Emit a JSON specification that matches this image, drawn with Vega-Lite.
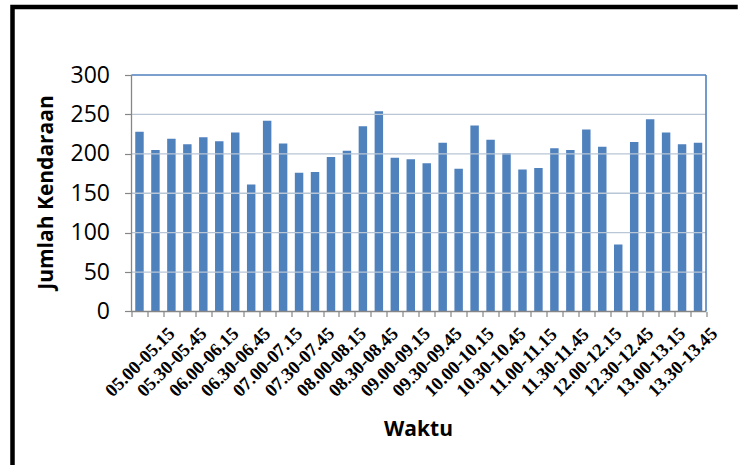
{
  "$schema": "https://vega.github.io/schema/vega-lite/v6.json",
  "autosize": "none",
  "width": 725.5,
  "height": 458,
  "padding": {"left": 12.5, "top": 7, "right": 0, "bottom": 0},
  "background": "white",
  "config": {
    "view": {"stroke": "black", "strokeWidth": 4.5, "fill": "white", "strokeDash": [723, 1186, 458, 0], "strokeCap": "square"}
  },
  "datasets": {
    "counts": [
      {"waktu": "05.00-05.15", "jumlah": 228},
      {"waktu": "05.15-05.30", "jumlah": 205},
      {"waktu": "05.30-05.45", "jumlah": 219},
      {"waktu": "05.45-06.00", "jumlah": 212},
      {"waktu": "06.00-06.15", "jumlah": 221},
      {"waktu": "06.15-06.30", "jumlah": 216},
      {"waktu": "06.30-06.45", "jumlah": 227},
      {"waktu": "06.45-07.00", "jumlah": 161},
      {"waktu": "07.00-07.15", "jumlah": 242},
      {"waktu": "07.15-07.30", "jumlah": 213},
      {"waktu": "07.30-07.45", "jumlah": 176},
      {"waktu": "07.45-08.00", "jumlah": 177},
      {"waktu": "08.00-08.15", "jumlah": 196},
      {"waktu": "08.15-08.30", "jumlah": 204},
      {"waktu": "08.30-08.45", "jumlah": 235},
      {"waktu": "08.45-09.00", "jumlah": 254},
      {"waktu": "09.00-09.15", "jumlah": 195},
      {"waktu": "09.15-09.30", "jumlah": 193},
      {"waktu": "09.30-09.45", "jumlah": 188},
      {"waktu": "09.45-10.00", "jumlah": 214},
      {"waktu": "10.00-10.15", "jumlah": 181},
      {"waktu": "10.15-10.30", "jumlah": 236},
      {"waktu": "10.30-10.45", "jumlah": 218},
      {"waktu": "10.45-11.00", "jumlah": 201},
      {"waktu": "11.00-11.15", "jumlah": 180},
      {"waktu": "11.15-11.30", "jumlah": 182},
      {"waktu": "11.30-11.45", "jumlah": 207},
      {"waktu": "11.45-12.00", "jumlah": 205},
      {"waktu": "12.00-12.15", "jumlah": 231},
      {"waktu": "12.15-12.30", "jumlah": 209},
      {"waktu": "12.30-12.45", "jumlah": 85},
      {"waktu": "12.45-13.00", "jumlah": 215},
      {"waktu": "13.00-13.15", "jumlah": 244},
      {"waktu": "13.15-13.30", "jumlah": 227},
      {"waktu": "13.30-13.45", "jumlah": 212},
      {"waktu": "13.45-14.00", "jumlah": 214}
    ],
    "grid": [{"v": 50}, {"v": 100}, {"v": 150}, {"v": 200}, {"v": 250}]
  },
  "layer": [
    {
      "data": {"name": "counts"},
      "mark": {"type": "bar", "color": "#4f81bd", "width": {"band": 0.53}},
      "encoding": {
        "x": {
          "field": "waktu",
          "type": "nominal",
          "sort": null,
          "scale": {"type": "band", "paddingInner": 0, "paddingOuter": 0, "range": [119, 693.5], "round": false},
          "axis": {
            "orient": "bottom",
            "offset": -153.5,
            "domain": false,
            "grid": false,
            "tickBand": "extent",
            "tickSize": 5,
            "tickColor": "#868686",
            "tickWidth": 1.2,
            "labelExpr": "(substring(datum.value,3,5)=='00'||substring(datum.value,3,5)=='30')?datum.value:''",
            "labelAngle": -45,
            "labelAlign": "center",
            "labelBaseline": "middle",
            "labelFont": "Liberation Serif",
            "labelFontWeight": "bold",
            "labelFontSize": 18.5,
            "labelColor": "black",
            "labelPadding": 45,
            "labelOverlap": false,
            "labelBound": false,
            "labelFlush": false,
            "title": "Waktu",
            "titleFont": "Open Sans",
            "titleFontWeight": "bold",
            "titleFontSize": 21,
            "titleColor": "black",
            "titleX": 405.5,
            "titleY": 123.5,
            "titleAlign": "center",
            "titleBaseline": "alphabetic"
          }
        },
        "y": {
          "field": "jumlah",
          "type": "quantitative",
          "scale": {"domain": [-194.72, 386.26], "nice": false, "zero": false},
          "axis": {
            "orient": "left",
            "offset": -119,
            "domain": false,
            "grid": false,
            "values": [0, 50, 100, 150, 200, 250, 300],
            "tickSize": 7,
            "tickColor": "#868686",
            "tickWidth": 1.2,
            "labelFont": "Open Sans",
            "labelFontSize": 23,
            "labelColor": "black",
            "labelPadding": 15,
            "title": "Jumlah Kendaraan",
            "titleFont": "Open Sans",
            "titleFontWeight": "bold",
            "titleFontSize": 21,
            "titleColor": "black",
            "titleAngle": -90,
            "titleX": -85,
            "titleY": 185,
            "titleAlign": "center",
            "titleBaseline": "middle"
          }
        },
        "y2": {"datum": 0}
      }
    },
    {
      "data": {"name": "grid"},
      "mark": {"type": "rule", "color": "#b9c6d6", "strokeWidth": 1.3},
      "encoding": {
        "y": {"field": "v", "type": "quantitative"},
        "x": {"datum": "05.00-05.15", "type": "nominal", "bandPosition": 0, "scale": {"type": "band", "paddingInner": 0, "paddingOuter": 0, "range": [119, 693.5], "round": false}},
        "x2": {"datum": "13.45-14.00", "bandPosition": 1}
      }
    },
    {
      "data": {"values": [{}]},
      "mark": {"type": "rule", "color": "#4f81bd", "strokeWidth": 1.6},
      "encoding": {
        "y": {"datum": 300, "type": "quantitative"},
        "x": {"datum": "05.00-05.15", "type": "nominal", "bandPosition": 0, "scale": {"type": "band", "paddingInner": 0, "paddingOuter": 0, "range": [119, 693.5], "round": false}},
        "x2": {"datum": "13.45-14.00", "bandPosition": 1}
      }
    },
    {
      "data": {"values": [{}]},
      "mark": {"type": "rule", "color": "#4f81bd", "strokeWidth": 1.6},
      "encoding": {
        "x": {"datum": "13.45-14.00", "type": "nominal", "bandPosition": 1, "scale": {"type": "band", "paddingInner": 0, "paddingOuter": 0, "range": [119, 693.5], "round": false}},
        "y": {"datum": 0, "type": "quantitative"},
        "y2": {"datum": 300}
      }
    },
    {
      "data": {"values": [{}]},
      "mark": {"type": "rule", "color": "#868686", "strokeWidth": 1.3},
      "encoding": {
        "x": {"datum": "05.00-05.15", "type": "nominal", "bandPosition": 0, "scale": {"type": "band", "paddingInner": 0, "paddingOuter": 0, "range": [119, 693.5], "round": false}},
        "y": {"datum": 0, "type": "quantitative"},
        "y2": {"datum": 300}
      }
    },
    {
      "data": {"values": [{}]},
      "mark": {"type": "rule", "color": "#868686", "strokeWidth": 1.3},
      "encoding": {
        "y": {"datum": 0, "type": "quantitative"},
        "x": {"datum": "05.00-05.15", "type": "nominal", "bandPosition": 0, "scale": {"type": "band", "paddingInner": 0, "paddingOuter": 0, "range": [119, 693.5], "round": false}},
        "x2": {"datum": "13.45-14.00", "bandPosition": 1}
      }
    }
  ]
}
